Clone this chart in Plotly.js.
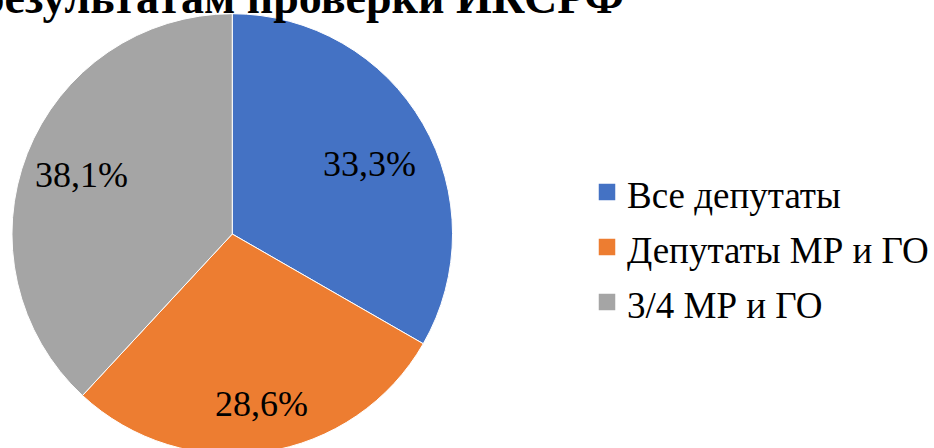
<!DOCTYPE html>
<html><head><meta charset="utf-8">
<script src="https://cdn.plot.ly/plotly-3.0.1.min.js"></script>
<style>
html,body{margin:0;padding:0;overflow:hidden;background:#fff}
#chart .legendpoints path{transform:translate(20px,0px) scale(1.5) !important}
</style>
</head><body>
<div id="chart" style="width:934px;height:456px"></div>
<script>
const categories = ["Все депутаты", "Депутаты МР и ГО", "3/4 МР и ГО"];
const values = [33.3, 28.6, 38.1];
const colors = ["#4472C4", "#ED7D31", "#A5A5A5"];
const titleText = "по результатам проверки ИКСРФ";

const W = 934, H = 456;
const FONT = "Liberation Serif";
const CX = 233, CY = 234, R = 221;           // pie centre / radius in px
const labelRadius = [0.70, 0.78, 0.733];     // label distance (fraction of radius)
const labelAngleShift = [3, -1, 0];          // degrees, "best fit" nudge

const trace = {
  type: "pie",
  labels: categories.map(c => "<span style='font-size:37px'>" + c + "</span>"),
  values: values,
  sort: false,
  direction: "clockwise",
  rotation: 0,
  marker: {colors: colors, line: {color: "#ffffff", width: 1}},
  textinfo: "none",
  hoverinfo: "none",
  domain: {x: [(CX - R) / W, (CX + R) / W], y: [(H - CY - R) / H, (H - CY + R) / H]}
};

const total = values.reduce((a, b) => a + b, 0);
const annotations = [];
let cum = 0;
values.forEach((v, i) => {
  const mid = ((cum + v / 2) / total * 360 + labelAngleShift[i]) * Math.PI / 180;
  cum += v;
  const d = labelRadius[i] * R;
  const px = CX + d * Math.sin(mid);
  const py = CY - d * Math.cos(mid);
  annotations.push({
    text: (v / total * 100).toFixed(1).replace(".", ",") + "%",
    xref: "paper", yref: "paper",
    x: px / W, y: 1 - py / H, xanchor: "center", yanchor: "middle",
    showarrow: false,
    font: {family: FONT, size: 36, color: "#000"}
  });
});
annotations.push({
  text: "<b>" + titleText + "</b>",
  xref: "paper", yref: "paper",
  x: 628 / W, y: 1 - 14 / H, xanchor: "right", yanchor: "bottom",
  yshift: -11,
  showarrow: false,
  font: {family: FONT, size: 46, color: "#000"}
});

const layout = {
  width: W, height: H,
  margin: {l: 0, r: 0, t: 0, b: 0},
  separators: ", ",
  showlegend: true,
  legend: {
    x: 589 / W, y: 1 - 247 / H, xanchor: "left", yanchor: "middle",
    font: {family: FONT, size: 40, color: "#000"},
    bgcolor: "rgba(0,0,0,0)"
  },
  annotations: annotations,
  paper_bgcolor: "#fff"
};
Plotly.newPlot("chart", [trace], layout, {displayModeBar: false, staticPlot: true});
</script>
</body></html>
